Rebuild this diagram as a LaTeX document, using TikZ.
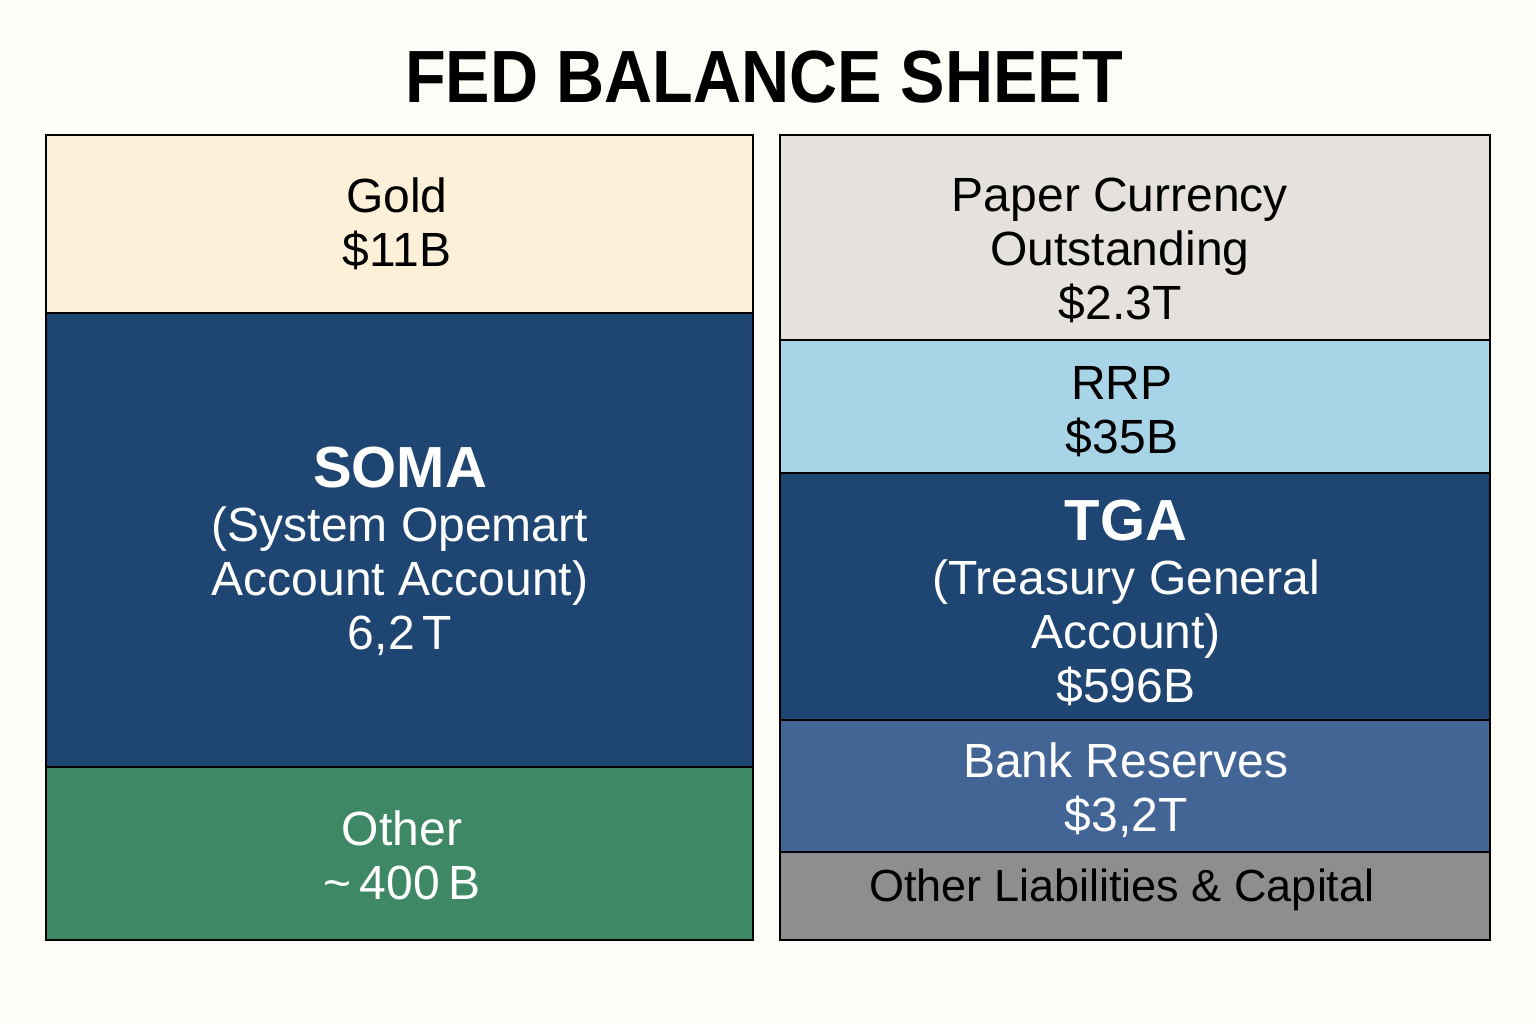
\documentclass[tikz,border=0pt]{standalone}
\usepackage{fontspec}
\setmainfont{Liberation Sans}
\usepackage{tikz}
\definecolor{paper}{HTML}{FDFCF7}
\definecolor{goldfill}{HTML}{FDF0D9}
\definecolor{navy}{HTML}{1F4672}
\definecolor{greenfill}{HTML}{3F8866}
\definecolor{currfill}{HTML}{E5E1DC}
\definecolor{rrpfill}{HTML}{A8D4E7}
\definecolor{bankfill}{HTML}{426596}
\definecolor{greyfill}{HTML}{8E8E8E}

\begin{document}
\begin{tikzpicture}[x=0.5pt,y=-0.5pt,
  blk/.style={draw=black,line width=0.75pt},
  lbl/.style={align=center,font=\fontsize{24}{27}\selectfont},
  wlbl/.style={lbl,text=white}]
\fill[paper] (0,0) rectangle (1536,1024); % page
\useasboundingbox (0,0) rectangle (1536,1024);

\node (title) at (764,77) {\fontsize{37}{40}\selectfont\bfseries\scalebox{0.9}[1]{FED BALANCE SHEET}};

% assets
\draw[blk,fill=goldfill] (46,135) rectangle (753,313); % gold
\draw[blk,fill=navy] (46,313) rectangle (753,767); % soma
\draw[blk,fill=greenfill] (46,767) rectangle (753,940); % other assets

% liabilities
\draw[blk,fill=currfill] (780,135) rectangle (1490,340); % currency
\draw[blk,fill=rrpfill] (780,340) rectangle (1490,473); % rrp
\draw[blk,fill=navy] (780,473) rectangle (1490,720); % tga
\draw[blk,fill=bankfill] (780,720) rectangle (1490,852); % reserves
\draw[blk,fill=greyfill] (780,852) rectangle (1490,940); % other liabilities

\node[lbl] (gold) at (397,224) {Gold\\\$11B};
\node[wlbl] (soma) at (400,551) {{\fontsize{29}{30}\selectfont\bfseries SOMA}\\(System Opemart\\Account Account)\\6,2\,T};
\node[wlbl] (other) at (402,855) {Other\\\textasciitilde\,400\,B};

\node[lbl] (currency) at (1120,250) {Paper Currency\\Outstanding\\\$2.3T};
\node[lbl] (rrp) at (1122,412) {RRP\\\$35B};
\node[wlbl] (tga) at (1126,603) {{\fontsize{29}{30}\selectfont\bfseries TGA}\\(Treasury General\\Account)\\\$596B};
\node[wlbl] (reserves) at (1126,790) {Bank Reserves\\\$3,2T};
\node[lbl,font=\fontsize{22.5}{27}\selectfont] (otherliab) at (1122,890) {Other Liabilities \& Capital};
\end{tikzpicture}
\end{document}
